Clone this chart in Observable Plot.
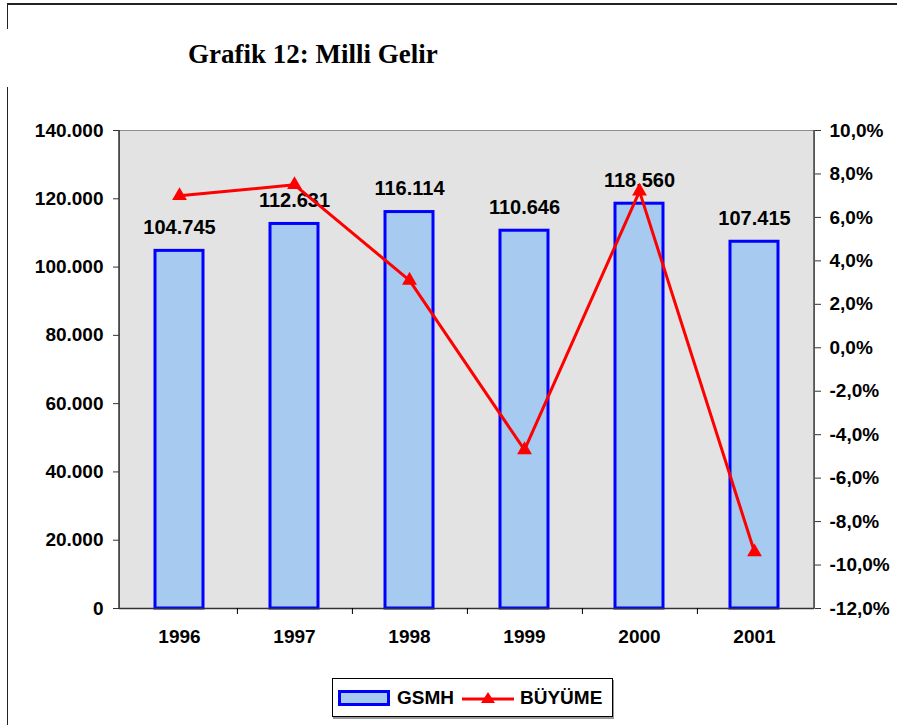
<!DOCTYPE html>
<html><head><meta charset="utf-8">
<script src="https://cdn.jsdelivr.net/npm/d3@7"></script>
<script src="https://cdn.jsdelivr.net/npm/@observablehq/plot@0.6"></script>
<style>
body{margin:0;background:#fff;}
#wrap{position:relative;width:897px;height:725px;overflow:hidden;font-family:"Liberation Sans",Arial,sans-serif;}
#chart{position:absolute;left:0;top:0;}
.ln{position:absolute;background:#222;}
#title{position:absolute;left:188px;top:39px;font-family:"Liberation Serif","Times New Roman",serif;font-weight:bold;font-size:27px;color:#000;white-space:nowrap;}
#legend{position:absolute;left:332px;top:678px;width:279px;height:37px;border:1px solid #000;box-shadow:1px 2px 0 #999;background:#fff;display:flex;align-items:center;font-weight:bold;font-size:19px;}
#sw{width:46px;height:10px;background:#a6caf0;border:3px solid #0000ff;margin-left:5px;margin-right:7px;}
</style></head><body>
<div id="wrap">
  <div class="ln" style="left:7px;top:3px;width:890px;height:2px;"></div>
  <div class="ln" style="left:7px;top:3px;width:1px;height:26px;"></div>
  <div class="ln" style="left:7px;top:87px;width:1px;height:640px;"></div>
  <div id="chart"></div>
  <div id="title">Grafik 12: Milli Gelir</div>
  <div id="legend">
    <div id="sw"></div><span>GSMH</span>
    <svg width="56" height="20" style="margin:0 4px 0 6px"><line x1="2" y1="11" x2="54" y2="11" stroke="#ff0000" stroke-width="3"/><path d="M28,4 L35,15 L21,15 Z" fill="#ff0000"/></svg>
    <span>BÜYÜME</span>
  </div>
</div>
<script>
const years = ["1996","1997","1998","1999","2000","2001"];
const gsmh = [104745,112631,116114,110646,118560,107415];
const growth = [7.0,7.5,3.1,-4.7,7.2,-9.4];
const leftTicks = [0,20000,40000,60000,80000,100000,120000,140000];
const rightTicks = [-12,-10,-8,-6,-4,-2,0,2,4,6,8,10];

const yMax = 140000, pMin = -12, pMax = 10;
const toY = p => (p - pMin) / (pMax - pMin) * yMax;
const fromY = y => y / yMax * (pMax - pMin) + pMin;

const loc = d3.formatLocale({decimal:",", thousands:".", grouping:[3], currency:["",""], minus:"-"});
const fmtN = loc.format(",d");
const fmtP = v => loc.format(".1f")(v) + "%";

const data = years.map((year,i)=>({year, gsmh:gsmh[i], growth:growth[i]}));

const W = 897, H = 725, mt = 130, mb = 117, ml = 119, mr = 83;
const step = (W - ml - mr) / years.length;
const tickLen = 6 / (H - mt - mb) * yMax;

const chart = Plot.plot({
  width: W, height: H,
  marginTop: mt, marginBottom: mb, marginLeft: ml, marginRight: mr,
  style: {fontFamily: '"Liberation Sans", Arial, sans-serif', fontSize: "19px", fontWeight: "bold", color: "#000", background: "transparent"},
  x: {domain: years, paddingInner: 0.58, paddingOuter: 0.29, axis: null, label: null},
  y: {domain: [0, yMax], axis: null, label: null},
  marks: [
    Plot.frame({fill: "#e3e3e3", stroke: "#8c8c8c"}),
    Plot.barY(data, {x: "year", y: "gsmh", fill: "#a6caf0", stroke: "#0000ff", strokeWidth: 3}),
    Plot.text(data, {x: "year", y: "gsmh", text: d => fmtN(d.gsmh), dy: -23, fontSize: 20, fontWeight: "bold", fill: "#000"}),
    Plot.lineY(data, {x: "year", y: d => toY(d.growth), stroke: "#ff0000", strokeWidth: 3}),
    Plot.dot(data, {x: "year", y: d => toY(d.growth), symbol: "triangle", r: 5.5, fill: "#ff0000", stroke: "none"}),
    Plot.ruleY([0], {stroke: "#333", strokeWidth: 1.5}),
    Plot.ruleX(years.slice(0, years.length - 1), {x: d => d, dx: step / 2, y1: 0, y2: -tickLen, stroke: "#000"}),
    Plot.axisX({tickSize: 0, tickPadding: 21, fontSize: 19, fontWeight: "bold", label: null}),
    Plot.axisY({ticks: leftTicks, tickFormat: fmtN, tickSize: 6, tickPadding: 10, stroke: "#333", label: null}),
    Plot.axisY({anchor: "right", ticks: rightTicks.map(toY), tickFormat: d => fmtP(fromY(d)), tickSize: 6, tickPadding: 9, stroke: "#333", label: null})
  ]
});
const svg = d3.select(chart);
svg.append("line").attr("x1", ml).attr("x2", ml).attr("y1", mt).attr("y2", H - mb).attr("stroke", "#333").attr("stroke-width", 1.5);
svg.append("line").attr("x1", W - mr).attr("x2", W - mr).attr("y1", mt).attr("y2", H - mb).attr("stroke", "#444").attr("stroke-width", 1.5);
document.getElementById("chart").appendChild(chart);
</script>
</body></html>
